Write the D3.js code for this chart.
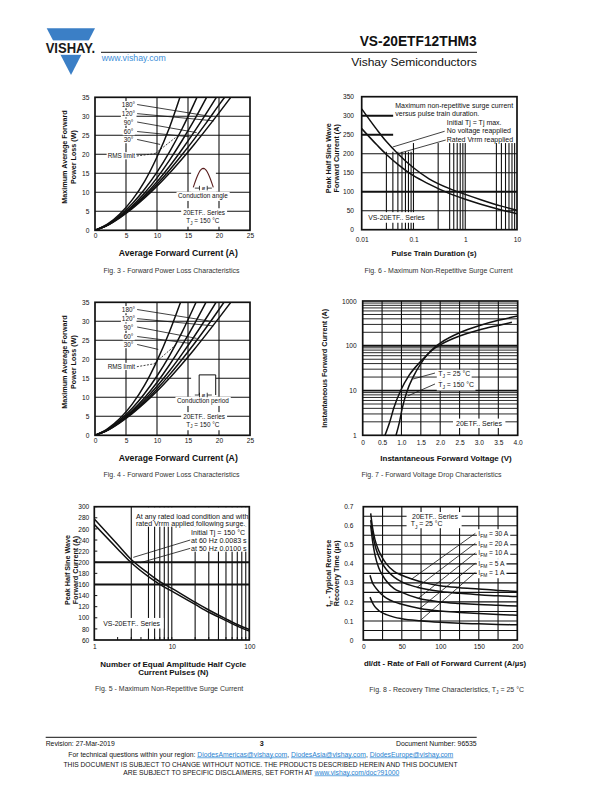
<!DOCTYPE html>
<html><head><meta charset="utf-8"><title>VS-20ETF12THM3</title>
<script src="https://cdn.jsdelivr.net/npm/d3@7/dist/d3.min.js"></script>
<style>html,body{margin:0;padding:0;background:#fff}</style>
</head><body><script>
const FONT="'Liberation Sans', Arial, Helvetica, sans-serif";
const BLACK="#111";

// ---------------- DATA ----------------
// Fig 3 - Forward power loss (sinusoidal), [I avg (A), P (W)]
const fig3XTicks=[0,5,10,15,20,25];
const fig3YTicks=[0,5,10,15,20,25,30,35];
const fig3AngleLabels=["180°","120°","90°","60°","30°"];
const fig3Loss30=[[0,0],[2,1.6],[4,4.3],[6,8],[8,12.9],[10,19.3],[12,27],[13.7,35]];
const fig3Loss60=[[0,0],[2,1.5],[4,3.9],[6,7],[8,10.8],[10,15.3],[12,20.6],[14,26.6],[16,33.4],[16.5,35.2]];
const fig3Loss90=[[0,0],[2,1.4],[4,3.6],[6,6.4],[8,9.8],[10,13.8],[12,18.4],[14,23.5],[16,29],[18,35]];
const fig3Loss120=[[0,0],[2,1.4],[4,3.5],[6,6.1],[8,9.2],[10,12.8],[12,16.8],[14,21.2],[16,25.9],[18,30.9],[19.7,35.3]];
const fig3Loss180=[[0,0],[2,1.3],[4,3.4],[6,5.9],[8,8.8],[10,12.1],[12,15.8],[14,19.8],[16,24],[18,28.4],[20,33],[20.9,35]];
const fig3LossDC=[[0,0],[2,1.3],[4,3.3],[6,5.7],[8,8.5],[10,11.6],[12,15],[14,18.7],[16,22.6],[18,26.7],[20,30.9],[22,35.2]];
const fig3RmsLimit=[[9.7,20.2],[13.3,24.8]];

// Fig 4 - Forward power loss (rectangular)
const fig4XTicks=[0,5,10,15,20,25];
const fig4YTicks=[0,5,10,15,20,25,30,35];
const fig4AngleLabels=["180°","120°","90°","60°","30°"];
const fig4Loss30=[[0,0],[2,1.7],[4,4.4],[6,8.2],[8,13.2],[10,19.6],[12,27.2],[13.8,35]];
const fig4Loss60=[[0,0],[2,1.5],[4,4],[6,7.1],[8,11],[10,15.6],[12,20.9],[14,27],[16.3,35]];
const fig4Loss90=[[0,0],[2,1.4],[4,3.7],[6,6.5],[8,9.9],[10,13.9],[12,18.5],[14,23.6],[16,29.2],[17.9,35]];
const fig4Loss120=[[0,0],[2,1.4],[4,3.5],[6,6.2],[8,9.3],[10,12.9],[12,16.9],[14,21.3],[16,26],[18,31],[19.6,35.2]];
const fig4Loss180=[[0,0],[2,1.3],[4,3.4],[6,5.9],[8,8.8],[10,12.2],[12,15.9],[14,19.9],[16,24.1],[18,28.5],[20,33.1],[20.8,35]];
const fig4LossDC=[[0,0],[2,1.3],[4,3.3],[6,5.7],[8,8.5],[10,11.6],[12,15],[14,18.7],[16,22.6],[18,26.7],[20,30.9],[22,35.2]];
const fig4RmsLimit=[[9.5,18.8],[13.1,23.9]];

// Fig 6 - Max non-repetitive surge current vs pulse train duration
const fig6XTickVals=[0.01,0.1,1,10];
const fig6XTickLabels=["0.01","0.1","1","10"];
const fig6YTicks=[0,50,100,150,200,250,300,350];
const fig6Duration=[0.01,0.02,0.03,0.05,0.1,0.2,0.5,1,2,5,10];
const fig6NoVoltage=[318,262,232,200,163,134,108,93,79,62,51];
const fig6RatedVrrm=[266,222,198,172,142,120,95,80,67,52,42];
const fig6GridXLow=[0.03,0.04,0.05,0.06,0.07,0.08,0.09];
const fig6GridX=[0.1,0.3,0.5,0.6,0.7,0.8,0.9,1,4,5,6,7,8,9];

// Fig 7 - Forward voltage drop
const fig7XTickVals=[0,0.5,1,1.5,2,2.5,3,3.5,4];
const fig7XTickLabels=["0","0.5","1.0","1.5","2.0","2.5","3.0","3.5","4.0"];
const fig7YTicks=[1,10,100,1000];
const fig7V25=[0.86,0.95,1.02,1.15,1.3,1.5,1.87,2.0,2.5,3.0,3.5,4.0];
const fig7I25=[1,2,4,10,20,40,95,115,195,280,370,460];
const fig7V150=[0.575,0.7,0.8,0.98,1.2,1.5,1.87,2.0,2.5,3.0,3.5,3.85];
const fig7I150=[1,2,4,10,22,45,90,105,165,225,285,334];

// Fig 5 - Max non-repetitive surge current vs number of pulses
const fig5XTickVals=[1,10,100];
const fig5YTicks=[60,80,100,120,140,160,180,200,220,240,260,280,300];
const fig5Pulses=[1,2,3,5,7,10,20,30,50,70,100];
const fig5At60Hz=[278,232,205,180,165,153,128,114,98,88,79];
const fig5At50Hz=[268,224,199,174,160,148,124,110,95,85,76];
const fig5GridX=[3,5,6,7,8,9,10,20,30,40,50,60,70,80,90];

// Fig 8 - Recovery time characteristics
const fig8XTicks=[0,50,100,150,200];
const fig8YTicks=[0,0.1,0.2,0.3,0.4,0.5,0.6,0.7];
const fig8Currents=["30","20","10","5","1"];
const fig8Trr30A=[[9.6,0.665],[12,0.59],[15,0.53],[20,0.47],[25,0.43],[30,0.4],[40,0.36],[50,0.34],[63,0.32],[80,0.3],[100,0.285],[125,0.275],[150,0.268],[175,0.26],[200,0.255]];
const fig8Trr20A=[[9.6,0.63],[12,0.56],[15,0.5],[20,0.44],[25,0.4],[30,0.37],[40,0.33],[50,0.305],[70,0.277],[100,0.255],[125,0.245],[150,0.238],[175,0.232],[200,0.228]];
const fig8Trr10A=[[9.6,0.6],[12,0.52],[15,0.45],[20,0.38],[25,0.34],[30,0.31],[40,0.27],[50,0.25],[71.5,0.219],[100,0.2],[125,0.192],[150,0.186],[175,0.182],[200,0.178]];
const fig8Trr5A=[[8.7,0.34],[12,0.3],[15,0.28],[20,0.255],[25,0.235],[30,0.22],[40,0.2],[50,0.188],[73.6,0.166],[100,0.152],[125,0.145],[150,0.139],[175,0.134],[200,0.13]];
const fig8Trr1A=[[8.7,0.225],[12,0.195],[15,0.175],[20,0.155],[25,0.142],[30,0.133],[40,0.12],[50,0.112],[73.6,0.101],[100,0.093],[125,0.088],[150,0.085],[175,0.082],[200,0.08]];

// ---------------- HELPERS ----------------
const svg=d3.select("body").append("svg").attr("width",612).attr("height",792).attr("font-family",FONT);
const TICK=6.6;

function txt(g,x,y,parts,o={}){
  const size=o.size||6.5;
  const t=g.append("text").attr("x",x).attr("y",y).attr("font-size",size).attr("font-family",FONT)
    .attr("text-anchor",o.anchor||"start").attr("fill",o.fill||BLACK);
  if(o.bold) t.attr("font-weight","bold");
  if(o.rotate!=null) t.attr("transform",`rotate(${o.rotate},${x},${y})`);
  if(o.len) t.attr("textLength",o.len).attr("lengthAdjust","spacingAndGlyphs");
  let shifted=0;
  (Array.isArray(parts)?parts:[parts]).forEach(p=>{
    if(typeof p==="string") p={t:p};
    const s=t.append("tspan").text(p.t);
    if(p.sub){s.attr("font-size",size*0.72).attr("dy",size*0.3);shifted=size*0.3;}
    else if(shifted){s.attr("dy",-shifted);shifted=0;}
    if(p.fill) s.attr("fill",p.fill);
    if(p.underline) s.attr("text-decoration","underline");
  });
  return t;
}
let clipN=0;
function panel(l,r,t,b,xs,ys){
  const id="clip"+(clipN++);
  svg.append("clipPath").attr("id",id).append("rect").attr("x",l).attr("y",t).attr("width",r-l).attr("height",b-t);
  const g=svg.append("g");
  const P={l,r,t,b,g,x:xs.range([l,r]),y:ys.range([b,t])};
  P.grid=g.append("g").attr("clip-path",`url(#${id})`);
  P.curves=g.append("g").attr("clip-path",`url(#${id})`);
  P.labels=g.append("g");
  P.frame=g.append("g");
  P.ann=g.append("g");
  return P;
}
function gridV(P,vals,w=1.1,from,to){
  P.grid.selectAll(null).data(vals).join("line")
    .attr("x1",d=>P.x(d)).attr("x2",d=>P.x(d))
    .attr("y1",from!=null?P.y(from):P.b).attr("y2",to!=null?P.y(to):P.t)
    .attr("stroke",BLACK).attr("stroke-width",w);
}
function gridH(P,vals,w=1.1,from,to){
  P.grid.selectAll(null).data(vals).join("line")
    .attr("y1",d=>P.y(d)).attr("y2",d=>P.y(d))
    .attr("x1",from!=null?P.x(from):P.l).attr("x2",to!=null?P.x(to):P.r)
    .attr("stroke",BLACK).attr("stroke-width",w);
}
function frame(P,w=1.7){
  P.frame.append("rect").attr("x",P.l).attr("y",P.t).attr("width",P.r-P.l).attr("height",P.b-P.t)
    .attr("fill","none").attr("stroke",BLACK).attr("stroke-width",w);
}
function curve(P,data,w=1.5,dash){
  P.curves.append("path").datum(data)
    .attr("d",d3.line().x(d=>P.x(d[0])).y(d=>P.y(d[1])).curve(d3.curveMonotoneX))
    .attr("fill","none").attr("stroke",BLACK).attr("stroke-width",w).attr("stroke-dasharray",dash||null);
}
function axes(P,xt,yt,o){
  const size=o.size||TICK;
  const ax=P.g.append("g").attr("transform",`translate(0,${P.b})`)
    .call(d3.axisBottom(P.x).tickValues(xt).tickFormat(o.xfmt||(d=>d)).tickSize(0).tickPadding(o.xBase-P.b-0.71*size));
  ax.select(".domain").remove();
  ax.attr("font-size",size).attr("font-family",FONT);
  ax.selectAll("text").attr("fill",BLACK);
  const ay=P.g.append("g").attr("transform",`translate(${P.l},0)`)
    .call(d3.axisLeft(P.y).tickValues(yt).tickFormat(o.yfmt||(d=>d)).tickSize(0).tickPadding(P.l-o.yRight));
  ay.select(".domain").remove();
  ay.attr("font-size",size).attr("font-family",FONT);
  ay.selectAll("text").attr("fill",BLACK);
}
function leader(P,x1,y1,x2,y2,w=0.8,dash){
  P.ann.append("line").attr("x1",P.x(x1)).attr("y1",P.y(y1)).attr("x2",P.x(x2)).attr("y2",P.y(y2))
    .attr("stroke",BLACK).attr("stroke-width",w).attr("stroke-dasharray",dash||null);
}
function label(P,x,y,parts,o={}){
  const size=o.size||6.5;
  const t=txt(P.labels,P.x(x),P.y(y)+0.35*size,parts,Object.assign({},o,{size}));
  if(o.bg!==false){
    const b=t.node().getBBox(), px=o.px??1.2, py=o.py??0.1;
    P.labels.insert("rect",()=>t.node()).attr("x",b.x-px).attr("y",b.y-py)
      .attr("width",b.width+2*px).attr("height",b.height+2*py).attr("fill","#fff");
  }
  return t;
}
function wbox(P,x1,y1,x2,y2){
  const xa=P.x(x1),xb=P.x(x2),ya=P.y(y1),yb=P.y(y2);
  P.labels.insert("rect",":first-child").attr("x",Math.min(xa,xb)).attr("y",Math.min(ya,yb))
    .attr("width",Math.abs(xb-xa)).attr("height",Math.abs(yb-ya)).attr("fill","#fff");
}
function ytitle(cx,cy,parts,size=7.2,len){
  return txt(svg,cx+0.35*size,cy,parts,{size,bold:true,anchor:"middle",rotate:-90,len});
}
function xtitle(cx,base,parts,size=8,len){
  return txt(svg,cx,base,parts,{size,bold:true,anchor:"middle",len});
}
function caption(cx,base,parts){
  return txt(svg,cx,base,parts,{size:7,anchor:"middle",fill:"#333"});
}

// ---------------- HEADER ----------------
const logo=svg.append("g");
logo.append("polygon").attr("points","46.7,28.3 95,28.3 71,75").attr("fill","#3b7fc6");
logo.append("rect").attr("x",44).attr("y",40.4).attr("width",54).attr("height",14.4).attr("fill","#fff");
txt(logo,70.4,52.7,"VISHAY.",{size:15,bold:true,anchor:"middle",len:49.5,fill:"#1a1a1a"});
txt(svg,476.7,45.7,"VS-20ETF12THM3",{size:15.5,bold:true,anchor:"end",len:117});
svg.append("line").attr("x1",101).attr("x2",477).attr("y1",52.3).attr("y2",52.3).attr("stroke",BLACK).attr("stroke-width",1);
txt(svg,101.7,61.3,"www.vishay.com",{size:8.2,fill:"#3d8ed8",len:64});
txt(svg,476.7,66.3,"Vishay Semiconductors",{size:11.5,anchor:"end",len:125.5});

// ---------------- FIG 3 / FIG 4 ----------------
function powerLossPanel(top,curves,rms,labelsArr,iconKind,xt,yt){
  const P=panel(95,250,top,top+133,d3.scaleLinear().domain([0,25]),d3.scaleLinear().domain([0,35]));
  gridV(P,[5,10,15,20]); gridH(P,[5,10,15,20,25,30]);
  curves.forEach(c=>curve(P,c,1.5));
  curve(P,rms,0.8,"2,1.4");
  const s=6.4;
  const ly=[33.0,30.6,28.4,25.9,23.8];
  labelsArr.forEach((t,i)=>label(P,5.4,ly[i],t,{anchor:"middle",size:6.4,px:1}));
  const ends=iconKind==="angle"
    ?[[18.9,29.9],[19.2,28.8],[16.4,25.7],[15.3,24.6],[10.5,22.6]]
    :[[19.1,29.9],[19.1,28.8],[16.4,25.5],[15.3,24.2],[10.2,22.6]];
  ends.forEach((e,i)=>leader(P,6.8,ly[i]+0.1,e[0],e[1]));
  const rmsY=iconKind==="angle"?19.55:18.05;
  label(P,6.45,rmsY,"RMS limit",{anchor:"end",size:s,px:1});
  leader(P,6.75,rmsY,rms[0][0],rms[0][1],0.8,"2,1.4");
  wbox(P,15.5,17.2,19.5,10.2);
  if(iconKind==="angle"){
    const pts=d3.range(0,1.0001,0.05).map(f=>[15.85+f*3.23,11.3+5.0*Math.sin(Math.PI*f)]);
    P.ann.append("path").attr("d",d3.line().x(d=>P.x(d[0])).y(d=>P.y(d[1]))(pts))
      .attr("fill","none").attr("stroke","#5a1e1e").attr("stroke-width",1.1);
  } else {
    P.ann.append("path").attr("d",`M${P.x(16.8)},${P.y(10.6)}V${P.y(15.9)}H${P.x(19.47)}V${P.y(10.6)}`)
      .attr("fill","none").attr("stroke",BLACK).attr("stroke-width",1);
  }
  const by=iconKind==="angle"?11.1:10.6;
  leader(P,16.1,by,16.85,by,0.8); leader(P,18.1,by,18.85,by,0.8);
  leader(P,16.85,by-0.6,16.85,by+0.6,0.8); leader(P,18.1,by-0.6,18.1,by+0.6,0.8);
  txt(P.ann,P.x(17.47),P.y(by)+2,"ø",{size:5.5,anchor:"middle"});
  label(P,17.4,9.0,iconKind==="angle"?"Conduction angle":"Conduction period",{anchor:"middle",size:s,px:1.5,py:0.6});
  label(P,17.6,iconKind==="angle"?4.6:4.9,"20ETF.. Series",{anchor:"middle",size:s,px:2,py:0.8});
  label(P,17.4,iconKind==="angle"?2.5:2.9,["T",{t:"J",sub:true}," = 150 °C"],{anchor:"middle",size:s,px:2,py:0.8});
  frame(P);
  axes(P,xt,yt,{xBase:top+133+7.9,yRight:89.3});
  return P;
}
powerLossPanel(97.3,[fig3Loss30,fig3Loss60,fig3Loss90,fig3Loss120,fig3Loss180,fig3LossDC],fig3RmsLimit,fig3AngleLabels,"angle",fig3XTicks,fig3YTicks);
xtitle(178.3,256.2,"Average Forward Current (A)",8.3,119);
ytitle(64,157,"Maximum Average Forward",7.2);
ytitle(73.3,157,"Power Loss (W)",7.2);
caption(171.5,272.5,"Fig. 3 - Forward Power Loss Characteristics");

powerLossPanel(302.3,[fig4Loss30,fig4Loss60,fig4Loss90,fig4Loss120,fig4Loss180,fig4LossDC],fig4RmsLimit,fig4AngleLabels,"period",fig4XTicks,fig4YTicks);
xtitle(178.3,461.2,"Average Forward Current (A)",8.3,119);
ytitle(64,362,"Maximum Average Forward",7.2);
ytitle(73.3,362,"Power Loss (W)",7.2);
caption(171.5,476.5,"Fig. 4 - Forward Power Loss Characteristics");

// ---------------- FIG 6 ----------------
{
  const P=panel(361.7,517,96.7,229.7,d3.scaleLog().domain([0.01,10]),d3.scaleLinear().domain([0,350]));
  gridV(P,fig6GridXLow,1.1,0,205);
  gridV(P,fig6GridX,1.1);
  gridH(P,[50,150,200],1.1); gridH(P,[100,250,300],2);
  curve(P,fig6Duration.map((d,i)=>[d,fig6NoVoltage[i]]),1.5);
  curve(P,fig6Duration.map((d,i)=>[d,fig6RatedVrrm[i]]),1.5);
  wbox(P,0.0405,350,10,228);
  const s=7.0;
  label(P,0.0445,328,"Maximum non-repetitive surge current",{size:s,bg:false});
  label(P,0.0445,304.5,"versus pulse train duration.",{size:s,bg:false});
  label(P,0.44,282.6,"Initial Tj = Tj max.",{size:s,bg:false});
  label(P,0.44,260.5,"No voltage reapplied",{size:s,bg:false});
  label(P,0.44,237.9,"Rated Vrrm reapplied",{size:s,bg:false});
  leader(P,0.40,259,0.0397,217.6);
  leader(P,0.42,236,0.0496,200);
  label(P,0.047,32,"VS-20ETF.. Series",{anchor:"middle",size:6.9,px:3,py:1.8});
  frame(P);
  axes(P,fig6XTickVals,fig6YTicks,{xBase:241.7,yRight:354,xfmt:(d,i)=>fig6XTickLabels[i]});
}
xtitle(434,256.2,"Pulse Train Duration (s)",7.6);
ytitle(328.3,158.3,"Peak Half Sine Wave",7.2);
ytitle(336.7,158.3,"Forward Current (A)",7.2);
caption(438.5,272.5,"Fig. 6 - Maximum Non-Repetitive Surge Current");

// ---------------- FIG 7 ----------------
{
  const P=panel(362.7,517.7,301,435.3,d3.scaleLinear().domain([0,4]),d3.scaleLog().domain([1,1000]));
  gridV(P,[0.5,1,1.5,2,2.5,3,3.5],1.1);
  const minor=P.y.ticks().filter(v=>v>1&&v<1000&&![10,100].includes(v));
  gridH(P,minor,0.9); gridH(P,[10,100],1.8);
  curve(P,fig7V25.map((v,i)=>[v,fig7I25[i]]),1.5);
  curve(P,fig7V150.map((v,i)=>[v,fig7I150[i]]),1.5);
  label(P,1.95,23.4,["T",{t:"J",sub:true}," = 25 °C"],{size:6.9,px:1.5,py:0.6});
  label(P,1.95,13.7,["T",{t:"J",sub:true}," = 150 °C"],{size:6.9,px:1.5,py:0.6});
  leader(P,1.865,24.6,1.30,18.1);
  leader(P,1.865,14.0,1.16,7.55);
  label(P,3.0,1.85,"20ETF.. Series",{anchor:"middle",size:7,px:3,py:1.2});
  frame(P);
  axes(P,fig7XTickVals,fig7YTicks,{xBase:444.8,yRight:356.7,xfmt:(d,i)=>fig7XTickLabels[i],yfmt:d=>String(d)});
}
xtitle(446,461.2,"Instantaneous Forward Voltage (V)",8);
ytitle(324,368.3,"Instantaneous Forward Current (A)",7.2);
caption(431.5,476.5,"Fig. 7 - Forward Voltage Drop Characteristics");

// ---------------- FIG 5 ----------------
{
  const P=panel(94.3,249.3,506.7,640,d3.scaleLog().domain([1,100]),d3.scaleLinear().domain([60,300]));
  gridV(P,fig5GridX,1.1);
  gridH(P,[160,200],2);
  P.grid.selectAll(null).data(fig5YTicks).join("line").attr("x1",P.l).attr("x2",P.l+3)
    .attr("y1",d=>P.y(d)).attr("y2",d=>P.y(d)).attr("stroke",BLACK).attr("stroke-width",1);
  P.grid.selectAll(null).data(P.x.ticks()).join("line").attr("y1",P.b).attr("y2",P.b-3)
    .attr("x1",d=>P.x(d)).attr("x2",d=>P.x(d)).attr("stroke",BLACK).attr("stroke-width",1);
  curve(P,fig5Pulses.map((n,i)=>[n,fig5At60Hz[i]]),1.5);
  curve(P,fig5Pulses.map((n,i)=>[n,fig5At50Hz[i]]),1.5);
  wbox(P,3.3,299,100,264);
  wbox(P,16.2,264,100,219);
  const s=7.1;
  label(P,3.45,283.2,"At any rated load condition and with",{size:s,bg:false});
  label(P,3.45,270,"rated Vrrm applied following surge.",{size:s,bg:false});
  label(P,17.7,254.4,"Initial Tj = 150 °C",{size:s,bg:false});
  label(P,17.7,240,"at 60 Hz 0.0083 s",{size:s,bg:false});
  label(P,17.7,225,"at 50 Hz 0.0100 s",{size:s,bg:false});
  leader(P,17.3,240,3.19,208.8);
  leader(P,17.3,225,3.89,199);
  label(P,3.03,90,"VS-20ETF.. Series",{anchor:"middle",size:6.9,px:3,py:1.8});
  frame(P);
  axes(P,fig5XTickVals,fig5YTicks,{xBase:649,yRight:89.3,xfmt:d=>String(d)});
}
xtitle(173.3,666.5,"Number of Equal Amplitude Half Cycle",8);
xtitle(173.3,675.2,"Current Pulses (N)",8);
ytitle(67.2,570,"Peak Half Sine Wave",7.2);
ytitle(75.5,570,"Forward Current (A)",7.2);
caption(169.2,691,"Fig. 5 - Maximum Non-Repetitive Surge Current");

// ---------------- FIG 8 ----------------
{
  const P=panel(363.3,517.3,506.7,640,d3.scaleLinear().domain([0,200]),d3.scaleLinear().domain([0,0.7]));
  gridV(P,[25,50,75,100,125,150,175],1.1);
  gridH(P,[0.05,0.1,0.15,0.2,0.25,0.3,0.35,0.4,0.45,0.5,0.55,0.6,0.65],1.1);
  [fig8Trr30A,fig8Trr20A,fig8Trr10A,fig8Trr5A,fig8Trr1A].forEach(c=>curve(P,c,1.5));
  wbox(P,56.2,0.672,127.7,0.587);
  label(P,93.1,0.65,"20ETF.. Series",{anchor:"middle",size:7,bg:false});
  label(P,82.3,0.609,["T",{t:"J",sub:true}," = 25 °C"],{anchor:"middle",size:6.9,bg:false});
  const ly=[0.56,0.508,0.457,0.403,0.355];
  const ends=[[62.8,0.32],[70,0.277],[71.5,0.219],[73.6,0.166],[73.6,0.101]];
  fig8Currents.forEach((c,i)=>{
    label(P,149.4,ly[i],["I",{t:"FM",sub:true}," = "+c+" A"],{size:6.7,px:1.5,py:0.5});
    leader(P,145.5,ly[i],ends[i][0],ends[i][1]);
  });
  frame(P);
  axes(P,fig8XTicks,fig8YTicks,{xBase:649,yRight:353.3,yfmt:d=>d===0?"0":d3.format(".1f")(d)});
}
xtitle(445,666,"dI/dt - Rate of Fall of Forward Current (A/µs)",7.8);
ytitle(328.3,573.3,["t",{t:"rr",sub:true}," - Typical Reverse"],7.2);
ytitle(336.7,573.3,"Recovery Time (µs)",7.2);
caption(446.7,691.5,["Fig. 8 - Recovery Time Characteristics, T",{t:"J",sub:true}," = 25 °C"]);

// ---------------- FOOTER ----------------
svg.append("line").attr("x1",45.7).attr("x2",476.7).attr("y1",737.3).attr("y2",737.3).attr("stroke",BLACK).attr("stroke-width",1);
txt(svg,45.7,745.5,"Revision: 27-Mar-2019",{size:6.8,len:69});
txt(svg,261.7,746,"3",{size:7.2,bold:true,anchor:"middle"});
txt(svg,476.7,745.5,"Document Number: 96535",{size:6.8,anchor:"end",len:80.7});
const LINK="#1f7fd0";
txt(svg,260.8,756.5,["For technical questions within your region: ",{t:"DiodesAmericas@vishay.com",fill:LINK,underline:true},", ",{t:"DiodesAsia@vishay.com",fill:LINK,underline:true},", ",{t:"DiodesEurope@vishay.com",fill:LINK,underline:true}],{size:6.8,anchor:"middle",len:385});
txt(svg,260.5,766.5,"THIS DOCUMENT IS SUBJECT TO CHANGE WITHOUT NOTICE. THE PRODUCTS DESCRIBED HEREIN AND THIS DOCUMENT",{size:6.6,anchor:"middle",len:394});
txt(svg,261.3,774.5,["ARE SUBJECT TO SPECIFIC DISCLAIMERS, SET FORTH AT ",{t:"www.vishay.com/doc?91000",fill:LINK,underline:true}],{size:6.6,anchor:"middle",len:276});
</script></body></html>
